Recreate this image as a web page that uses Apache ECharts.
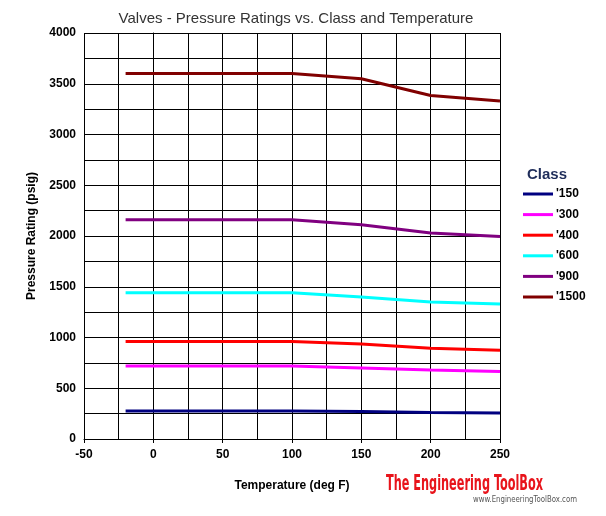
<!DOCTYPE html>
<html>
<head>
<meta charset="utf-8">
<script src="https://cdn.jsdelivr.net/npm/echarts@6/dist/echarts.min.js"></script>
<style>
  html, body { margin: 0; padding: 0; background: #fff; }
  #chart { width: 606px; height: 516px; }
</style>
</head>
<body>
<div id="chart"></div>
<script>
// temperatures (deg F) where ratings are read
const temps = [-20, 100, 150, 200, 250];

const classNames = ["'150", "'300", "'400", "'600", "'900", "'1500"];
const class150 = [275, 275, 270, 260, 255];
const class300 = [720, 720, 700, 680, 665];
const class400 = [960, 960, 935, 895, 875];
const class600 = [1440, 1440, 1400, 1350, 1330];
const class900 = [2160, 2160, 2110, 2030, 1995];
const class1500 = [3600, 3600, 3550, 3385, 3330];
const colors = ['#000080', '#ff00ff', '#ff0000', '#00ffff', '#800080', '#800000'];

const allSeries = [class150, class300, class400, class600, class900, class1500];

const font = 'Arial, "Liberation Sans", sans-serif';

// squeeze logo text to the width it has in the picture
const ctx = document.createElement('canvas').getContext('2d');
function fitScale(text, cssFont, w) {
  ctx.font = cssFont;
  return w / ctx.measureText(text).width;
}
const logoFont = 'bold 21px "DejaVu Sans Condensed", sans-serif';
const urlFont = '9px "DejaVu Sans Condensed", sans-serif';
const logoScale = fitScale('The Engineering ToolBox', logoFont, 157);
const urlScale = fitScale('www.EngineeringToolBox.com', urlFont, 104);

var myChart = echarts.init(document.getElementById('chart'));

const gridLine = { show: true, lineStyle: { color: '#000', width: 1 } };
const plain = function (v) { return String(v); };

myChart.setOption({
  animation: false,
  backgroundColor: '#fff',
  title: [
    {
      text: 'Valves - Pressure Ratings vs. Class and Temperature',
      left: 291, top: 6, textAlign: 'center',
      textStyle: { fontFamily: font, fontSize: 15, fontWeight: 'normal', color: '#333' }
    },
    {
      text: 'Class',
      left: 522, top: 162,
      textStyle: { fontFamily: font, fontSize: 15, fontWeight: 'bold', color: '#1f2d5a' }
    }
  ],
  legend: {
    orient: 'vertical',
    left: 518, top: 183,
    itemWidth: 30, itemHeight: 3,
    itemGap: 8.6,
    icon: 'rect',
    textStyle: { fontFamily: font, fontSize: 12, fontWeight: 'bold', color: '#000', padding: [0, 0, 0, -2] },
    data: classNames
  },
  grid: { left: 84, top: 33, right: 106, bottom: 77, containLabel: false },
  xAxis: {
    type: 'value',
    min: -50, max: 250, interval: 50,
    name: 'Temperature (deg F)',
    nameLocation: 'middle', nameGap: 41,
    nameTextStyle: { fontFamily: font, fontSize: 12, fontWeight: 'bold', color: '#000' },
    axisLine: { show: true, lineStyle: { color: '#000', width: 1 } },
    axisTick: { show: true, length: 4, lineStyle: { color: '#000' } },
    axisLabel: { fontFamily: font, fontSize: 12, fontWeight: 'bold', color: '#000', margin: 10, formatter: plain },
    splitLine: gridLine,
    minorTick: { show: false, splitNumber: 2 },
    minorSplitLine: gridLine
  },
  yAxis: {
    type: 'value',
    min: 0, max: 4000, interval: 500,
    name: 'Pressure Rating (psig)',
    nameLocation: 'middle', nameGap: 46,
    nameTextStyle: { fontFamily: font, fontSize: 12, fontWeight: 'bold', color: '#000' },
    axisLine: { show: true, lineStyle: { color: '#000', width: 1 } },
    axisTick: { show: true, length: 4, lineStyle: { color: '#000' } },
    axisLabel: { fontFamily: font, fontSize: 12, fontWeight: 'bold', color: '#000', margin: 8, formatter: plain },
    splitLine: gridLine,
    minorTick: { show: false, splitNumber: 2 },
    minorSplitLine: gridLine
  },
  series: allSeries.map(function (vals, i) {
    return {
      name: classNames[i],
      type: 'line',
      showSymbol: false,
      symbol: 'none',
      color: colors[i],
      lineStyle: { color: colors[i], width: 3 },
      data: temps.map(function (t, j) { return [t, vals[j]]; })
    };
  }),
  graphic: [
    {
      type: 'text', x: 386, y: 474, scaleX: logoScale,
      style: { text: 'The Engineering ToolBox', font: logoFont, fill: '#e8141b' }
    },
    {
      type: 'text', x: 473, y: 495, scaleX: urlScale,
      style: { text: 'www.EngineeringToolBox.com', font: urlFont, fill: '#555' }
    }
  ]
});
</script>
</body>
</html>
